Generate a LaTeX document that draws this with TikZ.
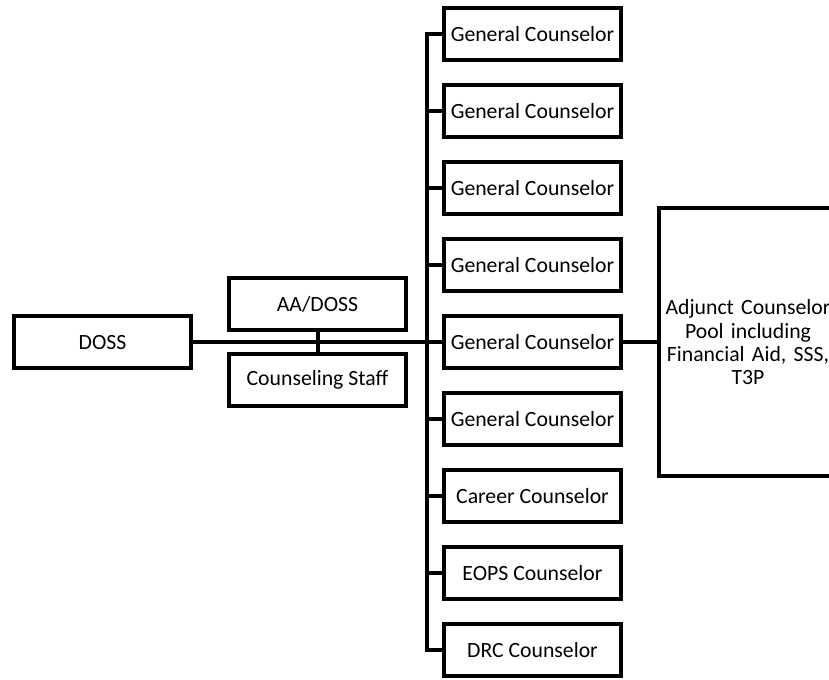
\documentclass[tikz,border=0pt]{standalone}
\usepackage{fontspec}
\setmainfont{Carlito}
\usepackage{tikz}
\usetikzlibrary{calc, chains, positioning}
\tikzstyle{box} = [rectangle, draw, line width=3pt, minimum width=132.75pt, minimum height=39pt, inner sep=0pt, align=center, font=\fontsize{16.3}{17.5}\selectfont]
\tikzstyle{line} = [draw, line width=3pt]

\begin{document}
\begin{tikzpicture}[x=0.75pt,y=-0.75pt,start chain=going below,node distance=15.75pt]
\useasboundingbox (0,0) rectangle (829,680);

\node[box] (doss) at (102.5,342.5) {DOSS};
\node[box] (aadoss) at (317.5,304) {AA/DOSS};
\node[box] (staff) at (317.5,380) {Counseling Staff};

% counselor column
\node[box, on chain] (gc1) at (532.5,34.5) {General Counselor};
\foreach \i in {2,...,6}
  \node[box, on chain] (gc\i) {General Counselor};
\node[box, on chain] (gc7) {Career Counselor};
\node[box, on chain] (gc8) {EOPS Counselor};
\node[box, on chain] (gc9) {DRC Counselor};

\node[
  box,
  minimum width=133.5pt,
  minimum height=201pt,
  text width=125pt
  ] (adj) at (748,342.5) {Adjunct Counselor\\ Pool including\\ Financial Aid, SSS,\\ T3P};

\coordinate (bus) at (427,0);
\draw[line] (gc1.west) -- (gc1.west -| bus) -- (gc9.west -| bus) -- (gc9.west);
\foreach \i in {2,...,8}
  \draw[line] (gc\i.west) -- (gc\i.west -| bus);
\draw[line] (doss.east) -- (doss.east -| bus);
\draw[line] (aadoss.south) -- (staff.north);
\draw[line] (gc5.east) -- (gc5.east -| adj.west);
\end{tikzpicture}
\end{document}
